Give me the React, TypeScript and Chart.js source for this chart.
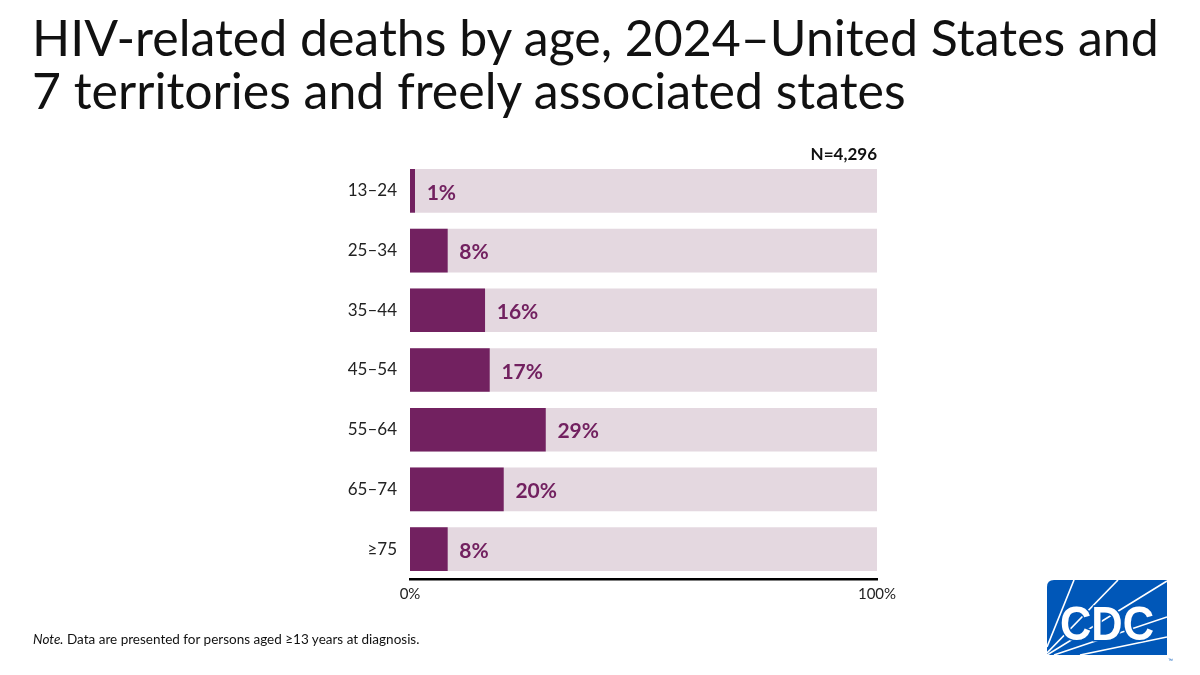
import { useEffect, useRef } from "react";
import { Chart, registerables } from "chart.js";

Chart.register(...registerables);

// Age groups and share of HIV-related deaths (%)
const ageGroups = ["13–24", "25–34", "35–44", "45–54", "55–64", "65–74", "≥75"];
const deathShares = [1, 8, 16, 17, 29, 20, 8];
// Full-width track behind each bar
const trackValues = [100, 100, 100, 100, 100, 100, 100];
const axisTickValues = [0, 100];
const totalLabel = "N=4,296";

const titleLines = [
  "HIV-related deaths by age, 2024–United States and",
  "7 territories and freely associated states",
];

const PURPLE = "#722160";
const TRACK = "#e4d8e0";
const FONT = "Lato, 'Open Sans', sans-serif";

const valueLabelPlugin = {
  id: "valueLabels",
  afterDatasetsDraw(chart: any) {
    const { ctx, chartArea } = chart;
    const meta = chart.getDatasetMeta(0);
    ctx.save();
    ctx.font = `bold 21px ${FONT}`;
    ctx.fillStyle = PURPLE;
    ctx.textAlign = "left";
    ctx.textBaseline = "middle";
    meta.data.forEach((bar: any, i: number) => {
      ctx.fillText(`${deathShares[i]}%`, bar.x + 12, bar.y + 2);
    });
    // sample size, right-aligned above the plot
    ctx.font = `bold 17px ${FONT}`;
    ctx.fillStyle = "#111";
    ctx.textAlign = "right";
    ctx.textBaseline = "alphabetic";
    ctx.fillText(totalLabel, chartArea.right, chartArea.top - 1);
    ctx.restore();
  },
};

function CdcLogo() {
  return (
    <svg
      width="140"
      height="90"
      viewBox="0 0 140 90"
      style={{ position: "absolute", left: 1040, top: 573 }}
    >
      <defs>
        <clipPath id="cdcClip">
          <path d="M7 14 Q7 7 14 7 L127 7 L127 82 L7 82 Z" />
        </clipPath>
      </defs>
      <path d="M7 14 Q7 7 14 7 L127 7 L127 82 L7 82 Z" fill="#0057b8" />
      <g clipPath="url(#cdcClip)" stroke="#fff" strokeWidth="1.6">
        <line x1="7" y1="74" x2="34" y2="7" />
        <line x1="7" y1="80" x2="78" y2="7" />
        <line x1="7" y1="82" x2="127" y2="8" />
        <line x1="14" y1="82" x2="127" y2="44" />
        <line x1="40" y1="82" x2="127" y2="64" />
      </g>
      <text
        x="67"
        y="67"
        textAnchor="middle"
        fill="#fff"
        stroke="#0057b8"
        strokeWidth="3"
        paintOrder="stroke"
        fontFamily="'Liberation Sans', Arial, sans-serif"
        fontWeight="bold"
        fontSize="48"
        textLength="94"
        lengthAdjust="spacingAndGlyphs"
      >
        CDC
      </text>
      <text x="128" y="89" fill="#0057b8" fontSize="5" fontFamily="sans-serif">
        ™
      </text>
    </svg>
  );
}

export default function App() {
  const canvasRef = useRef<HTMLCanvasElement | null>(null);

  useEffect(() => {
    if (!canvasRef.current) return;
    const chart = new Chart(canvasRef.current, {
      type: "bar",
      data: {
        labels: ageGroups,
        datasets: [
          {
            data: deathShares,
            backgroundColor: PURPLE,
            barThickness: 43,
            grouped: false,
            order: 0,
          },
          {
            data: trackValues,
            backgroundColor: TRACK,
            barThickness: 43,
            grouped: false,
            order: 1,
          },
        ],
      },
      options: {
        indexAxis: "y",
        responsive: false,
        animation: false,
        layout: { padding: { left: 330, right: 323, top: 161, bottom: 0 } },
        plugins: {
          legend: { display: false },
          tooltip: { enabled: false },
          title: { display: false },
        },
        scales: {
          x: {
            min: 0,
            max: 100,
            afterBuildTicks(scale: any) {
              scale.ticks = axisTickValues.map((v) => ({ value: v }));
            },
            afterFit(scale: any) {
              scale.height = 96;
            },
            grid: { display: false, drawTicks: false },
            border: { display: true, color: "#000", width: 2.5 },
            ticks: {
              padding: 6,
              color: "#222",
              font: { family: FONT, size: 15 },
              callback: (v: any) => `${v}%`,
              maxRotation: 0,
            },
          },
          y: {
            afterFit(scale: any) {
              scale.width = 80;
            },
            grid: { display: false, drawTicks: false },
            border: { display: false },
            ticks: {
              padding: 13,
              color: "#222",
              font: { family: FONT, size: 17 },
            },
          },
        },
      },
      plugins: [valueLabelPlugin],
    });
    return () => chart.destroy();
  }, []);

  return (
    <div
      style={{
        position: "absolute",
        left: 0,
        top: 0,
        width: 1200,
        height: 675,
        background: "#fff",
        overflow: "hidden",
        fontFamily: FONT,
      }}
    >
      <canvas
        ref={canvasRef}
        width={1200}
        height={675}
        style={{ position: "absolute", left: 0, top: 0, width: 1200, height: 675 }}
      />
      <div
        style={{
          position: "absolute",
          left: 32,
          top: 11,
          fontSize: 50,
          lineHeight: "53px",
          color: "#111",
          whiteSpace: "nowrap",
        }}
      >
        {titleLines.map((line) => (
          <div key={line}>{line}</div>
        ))}
      </div>
      <div
        style={{
          position: "absolute",
          left: 33,
          top: 631,
          fontSize: 13.5,
          color: "#111",
          whiteSpace: "nowrap",
        }}
      >
        <i>Note.</i> Data are presented for persons aged ≥13 years at diagnosis.
      </div>
      <CdcLogo />
    </div>
  );
}
